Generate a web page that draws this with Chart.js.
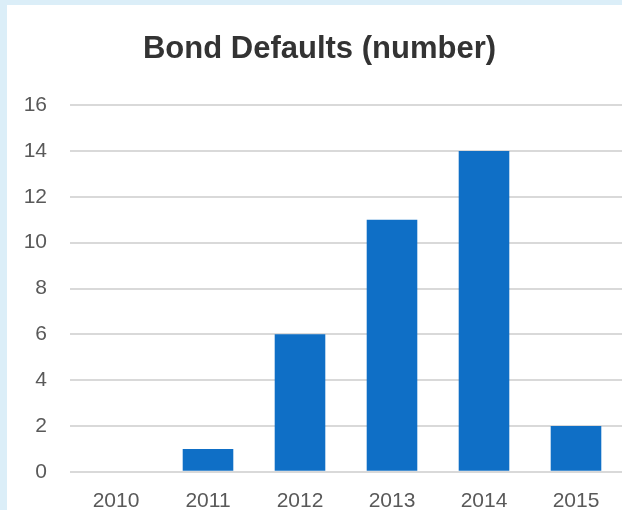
<!DOCTYPE html>
<html>
<head>
<meta charset="utf-8">
<script src="https://cdn.jsdelivr.net/npm/chart.js@4"></script>
<style>
  html, body { margin: 0; padding: 0; }
  body { width: 622px; height: 510px; overflow: hidden; background: #dbeef8; position: relative; }
  #wrap { position: absolute; left: 7px; top: 5px; width: 625px; height: 525px; background: #fff; }
</style>
</head>
<body>
<div id="wrap"><canvas id="myChart" width="625" height="525"></canvas></div>
<script>
const years = ['2010', '2011', '2012', '2013', '2014', '2015'];
const defaults = [0, 1, 6, 11, 14, 2];
const chartTitle = 'Bond Defaults (number)';

const ctx = document.getElementById('myChart').getContext('2d');

new Chart(ctx, {
  type: 'bar',
  data: {
    labels: years,
    datasets: [{
      label: 'Defaults',
      data: defaults,
      backgroundColor: '#0f6fc6',
      borderWidth: 0,
      barPercentage: 0.55,
      categoryPercentage: 1
    }]
  },
  options: {
    responsive: false,
    animation: false,
    layout: { padding: { top: 0, right: 0, left: 0, bottom: 7 } },
    scales: {
      x: {
        grid: { display: false },
        border: { display: false },
        ticks: {
          color: '#595959',
          font: { family: 'Liberation Sans', size: 21 },
          padding: 9
        }
      },
      y: {
        min: 0,
        max: 16,
        afterFit(scale) { scale.width = 63; },
        border: { display: false },
        grid: { color: '#d9d9d9', lineWidth: 2, drawTicks: false },
        ticks: {
          stepSize: 2,
          color: '#595959',
          font: { family: 'Liberation Sans', size: 21 },
          padding: 23
        }
      },
      // empty right-hand axis, only keeps a 10px gap so the title stays centred on the panel
      yRight: {
        position: 'right',
        afterFit(scale) { scale.width = 10; },
        border: { display: false },
        grid: { display: false },
        ticks: { display: false }
      }
    },
    plugins: {
      legend: { display: false },
      tooltip: { enabled: false },
      title: {
        display: true,
        text: chartTitle,
        color: '#333333',
        font: { family: 'Liberation Sans', size: 31, weight: 'bold' },
        padding: { top: 26, bottom: 37 }
      }
    }
  }
});
</script>
</body>
</html>
